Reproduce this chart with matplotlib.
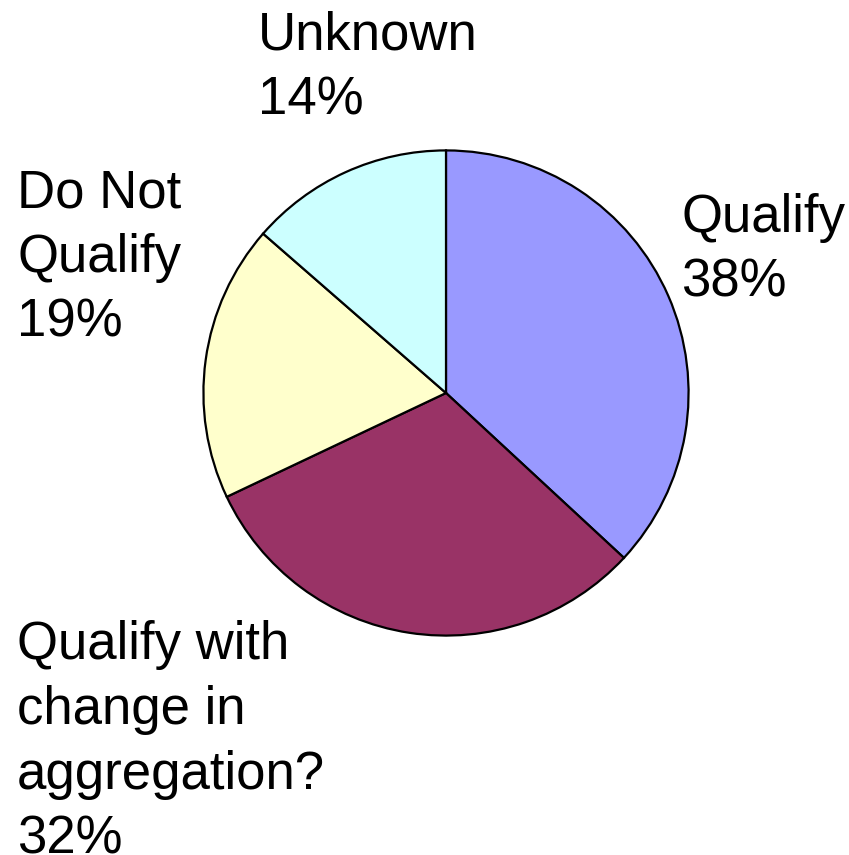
import matplotlib.pyplot as plt

labels = ["Qualify", "Qualify with\nchange in\naggregation?", "Do Not\nQualify", "Unknown"]
values = [38, 32, 19, 14]
colors = ["#9999FF", "#993366", "#FFFFCC", "#CCFFFF"]

# label anchor (left, top) in pixels from the top-left corner
label_pos = [(681, 193), (17, 620), (17, 168), (258, 11)]

W, H = 849, 855

plt.rcParams.update({
    "font.family": ["Liberation Sans", "DejaVu Sans"],
})

fig = plt.figure(figsize=(W / 100, H / 100), dpi=100)

cx, cy, r = 446, 393, 245
ax = fig.add_axes([
    (cx - r) / W,
    1 - (cy + r) / H,
    2 * r / W,
    2 * r / H,
])

ax.pie(
    values,
    colors=colors,
    startangle=90,
    counterclock=False,
    radius=1,
    wedgeprops={"edgecolor": "black", "linewidth": 1.6},
)
ax.set_xlim(-1.01, 1.01)
ax.set_ylim(-1.01, 1.01)
ax.set_aspect("equal")
ax.axis("off")

for lab, v, (x, y) in zip(labels, values, label_pos):
    fig.text(
        x / W,
        1 - y / H,
        f"{lab}\n{v}%",
        ha="left",
        va="top",
        fontsize=38,
        linespacing=1.38,
        color="black",
    )

fig.savefig("out.png", dpi=100)
